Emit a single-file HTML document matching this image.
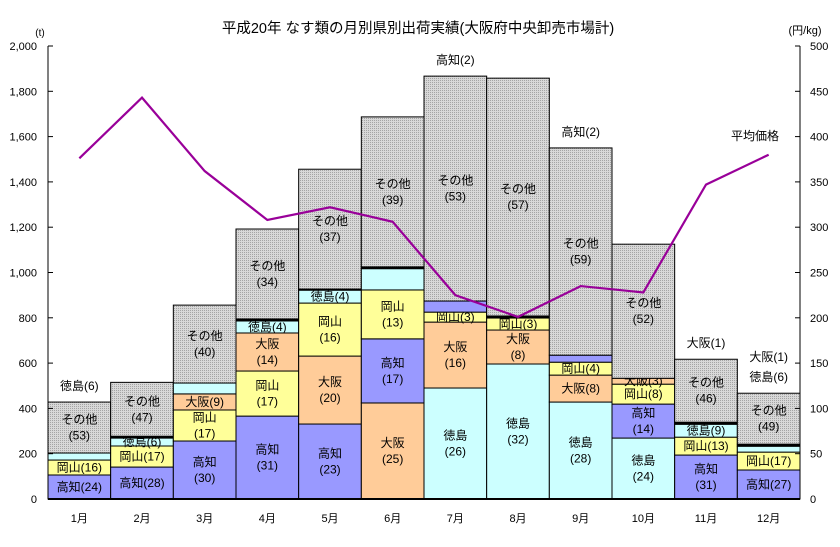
<!DOCTYPE html>
<html><head><meta charset="utf-8"><style>
body{margin:0;background:#fff;}
svg{display:block;font-family:"Liberation Sans","Noto Sans CJK JP",sans-serif;}
</style></head><body>
<svg id="chart" width="840" height="547" viewBox="0 0 840 547">
<defs>
<pattern id="dots" width="2" height="2" patternUnits="userSpaceOnUse">
<rect width="2" height="2" fill="#d8d8d8" shape-rendering="crispEdges"/><rect width="1" height="1" fill="#a4a4a4" shape-rendering="crispEdges"/>
</pattern>
</defs>
<text x="418" y="33" font-size="14.5" text-anchor="middle">平成20年 なす類の月別県別出荷実績(大阪府中央卸売市場計)</text>
<text x="40" y="36" font-size="10" text-anchor="middle">(t)</text>
<text x="805" y="34" font-size="11" text-anchor="middle">(円/kg)</text>
<g id="bars"></g>
<g id="axes"></g>
</svg>
<script>
const months = ["1月","2月","3月","4月","5月","6月","7月","8月","9月","10月","11月","12月"];
const cats = ["高知","徳島","大阪","岡山","小","その他"];
const seg1 = [["高知",106,"高知(24)"],["岡山",66,"岡山(16)"],["徳島",31,""],["その他",225,"その他\n(53)"]];
const seg2 = [["高知",141,"高知(28)"],["岡山",93,"岡山(17)"],["徳島",35,"徳島(6)"],["小",8,""],["その他",238,"その他\n(47)"]];
const seg3 = [["高知",256,"高知\n(30)"],["岡山",137,"岡山\n(17)"],["大阪",71,"大阪(9)"],["徳島",48,""],["その他",344,"その他\n(40)"]];
const seg4 = [["高知",366,"高知\n(31)"],["岡山",199,"岡山\n(17)"],["大阪",168,"大阪\n(14)"],["徳島",53,"徳島(4)"],["小",9,""],["その他",397,"その他\n(34)"]];
const seg5 = [["高知",331,"高知\n(23)"],["大阪",300,"大阪\n(20)"],["岡山",234,"岡山\n(16)"],["徳島",57,"徳島(4)"],["小",5,""],["その他",529,"その他\n(37)"]];
const seg6 = [["大阪",424,"大阪\n(25)"],["高知",283,"高知\n(17)"],["岡山",216,"岡山\n(13)"],["徳島",94,""],["小",8,""],["その他",662,"その他\n(39)"]];
const seg7 = [["徳島",490,"徳島\n(26)"],["大阪",291,"大阪\n(16)"],["岡山",44,"岡山(3)"],["高知",49,""],["その他",993,"その他\n(53)"]];
const seg8 = [["徳島",596,"徳島\n(32)"],["大阪",150,"大阪\n(8)"],["岡山",53,"岡山(3)"],["小",9,""],["その他",1050,"その他\n(57)"]];
const seg9 = [["徳島",428,"徳島\n(28)"],["大阪",119,"大阪(8)"],["岡山",57,"岡山(4)"],["高知",31,""],["その他",915,"その他\n(59)"]];
const seg10 = [["徳島",269,"徳島\n(24)"],["高知",150,"高知\n(14)"],["岡山",88,"岡山(8)"],["大阪",26,"大阪(3)"],["その他",592,"その他\n(52)"]];
const seg11 = [["高知",194,"高知\n(31)"],["岡山",79,"岡山(13)"],["徳島",57,"徳島(9)"],["小",9,""],["その他",278,"その他\n(46)"]];
const seg12 = [["高知",128,"高知(27)"],["岡山",79,"岡山(17)"],["徳島",26,""],["小",9,""],["その他",225,"その他\n(49)"]];
const segments = [seg1,seg2,seg3,seg4,seg5,seg6,seg7,seg8,seg9,seg10,seg11,seg12];
const prices = [376,443,362,308,322,306,225,201,235,228,347,380];
const topNotes = [["徳島(6)"],[],[],[],[],[],["高知(2)"],[],["高知(2)"],[],["大阪(1)"],["大阪(1)","徳島(6)"]];
const leftTicks = [0,200,400,600,800,1000,1200,1400,1600,1800,2000];
const rightTicks = [0,50,100,150,200,250,300,350,400,450,500];

const colors = {"高知":"#9999ff","徳島":"#ccffff","大阪":"#ffcc99","岡山":"#ffff99","小":"#000","その他":"url(#dots)"};
const X0=48, X1=800, Y0=499, Y1=46;
const slot=(X1-X0)/months.length;
const yL=v=>Y0-(v/2000)*(Y0-Y1);
const yR=v=>Y0-(v/500)*(Y0-Y1);
const xC=i=>X0+slot*(i+0.5);
const NS="http://www.w3.org/2000/svg";
const bars=document.getElementById('bars'), axes=document.getElementById('axes');
function mk(tag,attrs,parent){const e=document.createElementNS(NS,tag);for(const k in attrs)e.setAttribute(k,attrs[k]);parent.appendChild(e);return e;}

segments.forEach((segs,i)=>{
  let cum=0;
  const x=X0+slot*i;
  segs.forEach(s=>{
    const yb=yL(cum), yt=yL(cum+s[1]);
    const r=mk('rect',{x:x,y:yt,width:slot,height:Math.max(yb-yt,1),fill:colors[s[0]],stroke:'#000','stroke-width':1},bars);
    
    
    if(s[2]){
      const lines=s[2].split("\n");
      const mid=(yb+yt)/2;
      lines.forEach((ln,k)=>{
        const t=mk('text',{x:x+slot/2,y:mid+4+(k-(lines.length-1)/2)*16,'font-size':12,'text-anchor':'middle'},bars);
        t.textContent=ln;
        
        
      });
    }
    cum+=s[1];
  });
  const top=yL(cum);
  topNotes[i].forEach((n,k)=>{
    const t=mk('text',{x:x+slot/2,y:top-12-(topNotes[i].length-1-k)*20,'font-size':12,'text-anchor':'middle'},bars);
    t.textContent=n;
    
    
  });
  const ml=mk('text',{x:xC(i),y:522,'font-size':11,'text-anchor':'middle'},axes);
  ml.textContent=months[i];
  
  
});

const pl=mk('polyline',{points:prices.map((p,i)=>xC(i)+','+yR(p)).join(' '),fill:'none',stroke:'#990099','stroke-width':2.2},bars);


const lg=mk('text',{x:755,y:140,'font-size':12,'text-anchor':'middle'},bars);
lg.textContent='平均価格';



const la=mk('line',{x1:X0,y1:Y1,x2:X0,y2:Y0,stroke:'#000','stroke-width':1},axes);


const ra=mk('line',{x1:X1,y1:Y1,x2:X1,y2:Y0,stroke:'#000','stroke-width':1},axes);


const xa=mk('line',{x1:X0,y1:Y0,x2:X1,y2:Y0,stroke:'#000','stroke-width':2},axes);


leftTicks.forEach(v=>{
  mk('line',{x1:X0,y1:yL(v),x2:X0+5,y2:yL(v),stroke:'#000'},axes);
  const t=mk('text',{x:37,y:yL(v)+4,'font-size':11,'text-anchor':'end'},axes);
  t.textContent=v.toLocaleString('en-US');
  
  
});
rightTicks.forEach(v=>{
  mk('line',{x1:X1-5,y1:yR(v),x2:X1,y2:yR(v),stroke:'#000'},axes);
  const t=mk('text',{x:810,y:yR(v)+4,'font-size':11,'text-anchor':'start'},axes);
  t.textContent=v;
  
  
});
</script>
</body></html>
